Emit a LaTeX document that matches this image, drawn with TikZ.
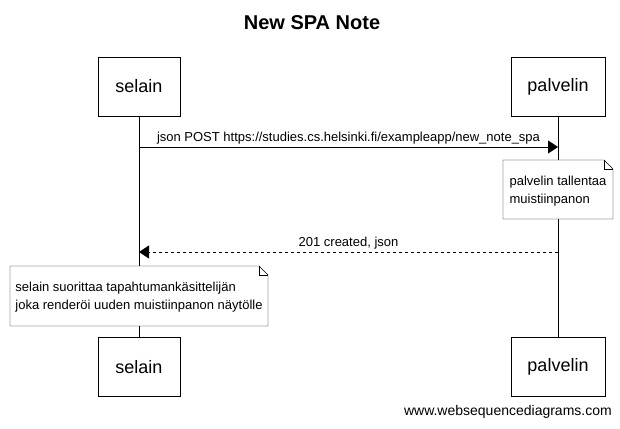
\documentclass[tikz,border=0pt]{standalone}
\usepackage{fontspec}
\setmainfont{Liberation Sans}
\usetikzlibrary{positioning}
\usetikzlibrary{arrows.meta}
\usetikzlibrary{calc}

\begin{document}
\begin{tikzpicture}[x=1pt, y=-1pt,
    actor/.style={draw, fill=white, minimum height=59pt, inner sep=0pt, font=\fontsize{18}{20}\selectfont},
    msg/.style={-{Triangle[length=10pt, width=13pt]}},
    reply/.style={dashed, -{Triangle[length=10pt, width=13pt]}},
    lbl/.style={font=\fontsize{13}{15}\selectfont, inner sep=1pt},
    note/.style={align=left, inner sep=0pt, font=\fontsize{13}{18.5}\selectfont}]
 	 \useasboundingbox (0,0) rectangle (620,428);

 	 % Title
 	 \node[font=\bfseries\fontsize{20}{22}\selectfont] (title) at (312,23) {New SPA Note};

 	 % Participants (top and bottom)
 	 \node[actor, minimum width=82pt] (selainTop) at (139,86.5) {selain};
 	 \node[actor, minimum width=94pt] (palvelinTop) at (558,86.5) {palvelin};
 	 \node[actor, minimum width=82pt] (selainBot) at (139,367) {selain};
 	 \node[actor, minimum width=94pt] (palvelinBot) at (558,367) {palvelin};

 	 % Lifelines
 	 \draw (selainTop) -- (selainBot);
 	 \draw (palvelinTop) -- (palvelinBot);

 	 % Message points on the lifelines
 	 \coordinate (req1) at (139,147);
 	 \coordinate (req2) at (558,147);
 	 \coordinate (res1) at (558,252);
 	 \coordinate (res2) at (139,252);

 	 \draw[msg] (req1) to node[lbl, above=2pt] {json POST https://studies.cs.helsinki.fi/exampleapp/new\_note\_spa} (req2);
 	 \draw[reply] (res1) to node[lbl, above=2pt] {201 created, json} (res2);

 	 % Notes
 	 \def\ear{9}
 	 \fill[white] (503,160) rectangle (613,219);
 	 \node[note] (noteSave) at (558,191) {palvelin tallentaa\\muistiinpanon};
 	 \draw (503,160) coordinate (ns1) -- (613-\ear,160) coordinate (ns2) -- (613,160+\ear) coordinate (ns3) -- (613,219) coordinate (ns4) -- (503,219) -- cycle;
 	 \draw (ns2) -- (613-\ear,160+\ear) -- (ns3);

 	 \fill[white] (10,266) rectangle (268,326);
 	 \node[note] (noteRender) at (139,297) {selain suorittaa tapahtumank\"asittelij\"an\\joka render\"oi uuden muistiinpanon n\"ayt\"olle};
 	 \draw (10,266) -- (268-\ear,266) coordinate (nr2) -- (268,266+\ear) coordinate (nr3) -- (268,326) -- (10,326) -- cycle;
 	 \draw (nr2) -- (268-\ear,266+\ear) -- (nr3);

 	 % Footer
 	 \node[font=\fontsize{14}{16}\selectfont, anchor=east, inner sep=0pt] (footer) at (612,412) {www.websequencediagrams.com};
\end{tikzpicture}
\end{document}
